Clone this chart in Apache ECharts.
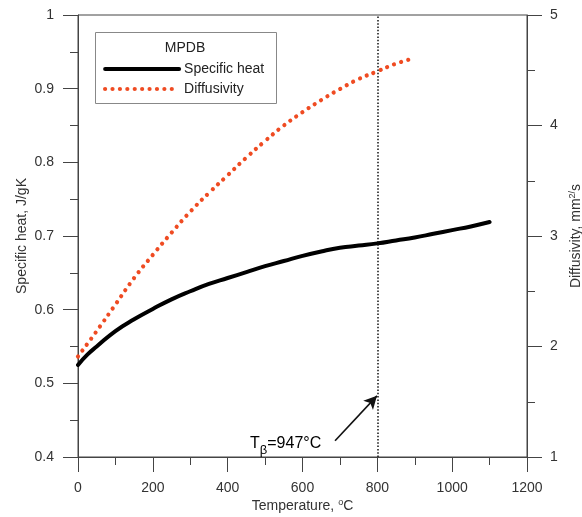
<!DOCTYPE html>
<html>
<head>
<meta charset="utf-8">
<script src="https://cdn.jsdelivr.net/npm/echarts@6/dist/echarts.min.js"></script>
<style>
  html, body { margin: 0; padding: 0; background: #fff; }
  #chart { width: 582px; height: 517px; }
</style>
</head>
<body>
<div id="chart"></div>
<script>
// temperature, °C
const tempHeat = [0, 25, 50, 100, 150, 200, 250, 300, 350, 400, 450, 500, 550, 600, 650, 700, 750, 800, 850, 900, 950, 1000, 1050, 1100]
// specific heat, J/gK
const specificHeat = [0.525, 0.539, 0.550, 0.571, 0.587, 0.601, 0.614, 0.625, 0.635, 0.643, 0.651, 0.659, 0.666, 0.673, 0.679, 0.684, 0.687, 0.690, 0.694, 0.698, 0.703, 0.708, 0.713, 0.719]
// diffusivity, mm2/s
const tempDiff = [0, 50, 100, 150, 200, 250, 300, 350, 400, 450, 500, 550, 600, 650, 700, 750, 800, 850, 900]
const diffusivity = [1.91, 2.14, 2.38, 2.62, 2.83, 3.03, 3.22, 3.39, 3.55, 3.71, 3.86, 4.00, 4.12, 4.23, 4.33, 4.42, 4.49, 4.56, 4.61]

const xTicks = [0, 1200, 200]   // min, max, step
const yLeftTicks = [0.4, 1, 0.1]
const yRightTicks = [1, 5, 1]
const tBeta = 800                 // dotted marker line
const arrowFrom = [687, 0.422]   // annotation arrow (temperature, specific heat)
const arrowTo = [799, 0.483]

const FONT = '"Liberation Sans", Arial, sans-serif'
const AXIS_COLOR = '#444'
const ORANGE = '#EF4B22'

const zip = (xs, ys) => xs.map((x, i) => [x, ys[i]])

const chart = echarts.init(document.getElementById('chart'))

const axisCommon = {
  nameMoveOverlap: false,
  axisLine: { show: true, lineStyle: { color: AXIS_COLOR, width: 1 } },
  axisTick: { show: true, inside: false, length: 15, lineStyle: { color: AXIS_COLOR } },
  minorTick: { show: true, splitNumber: 2, length: 8, lineStyle: { color: AXIS_COLOR } },
  splitLine: { show: false },
  axisLabel: { color: '#333', fontSize: 14, fontFamily: FONT, margin: 24, formatter: v => String(+v.toFixed(2)) },
  nameTextStyle: { color: '#333', fontSize: 14, fontFamily: FONT }
}
const supRich = { sup: { fontSize: 9, fontFamily: FONT, color: '#333', padding: [0, 0, 7, 0] } }

const option = {
  animation: false,
  backgroundColor: '#fff',
  grid: {
    left: 78, right: 55, top: 15, bottom: 60,
    outerBoundsMode: 'none', containLabel: false,
    show: true, borderColor: AXIS_COLOR, borderWidth: 1
  },
  xAxis: {
    ...axisCommon,
    type: 'value',
    min: xTicks[0], max: xTicks[1], interval: xTicks[2],
    name: 'Temperature, {sup|o}C',
    nameLocation: 'middle',
    nameGap: 41,
    nameTextStyle: { ...axisCommon.nameTextStyle, rich: supRich }
  },
  yAxis: [
    {
      ...axisCommon,
      type: 'value',
      position: 'left',
      min: yLeftTicks[0], max: yLeftTicks[1], interval: yLeftTicks[2],
      name: 'Specific heat, J/gK',
      nameLocation: 'middle',
      nameRotate: 90,
      nameGap: 49
    },
    {
      ...axisCommon,
      type: 'value',
      position: 'right',
      min: yRightTicks[0], max: yRightTicks[1], interval: yRightTicks[2],
      axisLabel: { ...axisCommon.axisLabel, margin: 23 },
      name: 'Diffusivity, mm{sup|2/}s',
      nameLocation: 'middle',
      nameRotate: 90,
      nameGap: 41,
      nameTextStyle: { ...axisCommon.nameTextStyle, rich: supRich }
    }
  ],
  legend: {
    orient: 'vertical',
    left: 103,
    top: 62,
    itemWidth: 74,
    itemHeight: 14,
    itemGap: 6,
    padding: 0,
    selectedMode: false,
    itemStyle: { opacity: 0 },
    textStyle: { color: '#222', fontSize: 14, fontFamily: FONT },
    data: [
      { name: 'Specific heat', lineStyle: { width: 4, color: '#000' } },
      { name: 'Diffusivity', lineStyle: { width: 4.2, color: ORANGE, type: [0.01, 7.4], cap: 'round' } }
    ]
  },
  graphic: [
    {
      type: 'rect',
      shape: { x: 95.5, y: 32.5, width: 181, height: 71 },
      style: { fill: 'none', stroke: '#888', lineWidth: 1 },
      z: 1
    },
    {
      type: 'text',
      x: 185, y: 48,
      style: { text: 'MPDB', fontSize: 14, fontFamily: FONT, fill: '#222', align: 'center', verticalAlign: 'middle' }
    },
    {
      type: 'text',
      x: 250, y: 444,
      style: {
        text: '{a|T}{b|β}{a|=947°C}',
        fontFamily: FONT,
        verticalAlign: 'middle',
        rich: {
          a: { fontSize: 16, fontFamily: FONT, color: '#222' },
          b: { fontSize: 13, fontFamily: FONT, color: '#222', padding: [12, 0, 0, 0] }
        }
      }
    }
  ],
  series: [
    {
      name: 'Specific heat',
      type: 'line',
      yAxisIndex: 0,
      smooth: true,
      showSymbol: false,
      symbol: 'none',
      data: zip(tempHeat, specificHeat),
      itemStyle: { color: '#000' },
      lineStyle: { color: '#000', width: 4, cap: 'round' },
      markLine: {
        silent: true,
        animation: false,
        label: { show: false },
        data: [
          [
            { coord: [tBeta, yLeftTicks[0]], symbol: 'none' },
            { coord: [tBeta, yLeftTicks[1]], symbol: 'none' }
          ],
          [
            { coord: arrowFrom, symbol: 'none', lineStyle: { type: 'solid', width: 1.6, color: '#111' } },
            { coord: arrowTo, symbol: 'arrow', symbolSize: [10, 13], lineStyle: { type: 'solid', width: 1.6, color: '#111' } }
          ]
        ],
        lineStyle: { color: '#111', width: 1.5, type: [1.5, 1.8] }
      }
    },
    {
      name: 'Diffusivity',
      type: 'line',
      yAxisIndex: 1,
      smooth: true,
      showSymbol: false,
      symbol: 'none',
      data: zip(tempDiff, diffusivity),
      itemStyle: { color: ORANGE },
      lineStyle: { color: ORANGE, width: 4.2, type: [0.01, 7.4], cap: 'round' }
    }
  ]
}

chart.setOption(option)
</script>
</body>
</html>
